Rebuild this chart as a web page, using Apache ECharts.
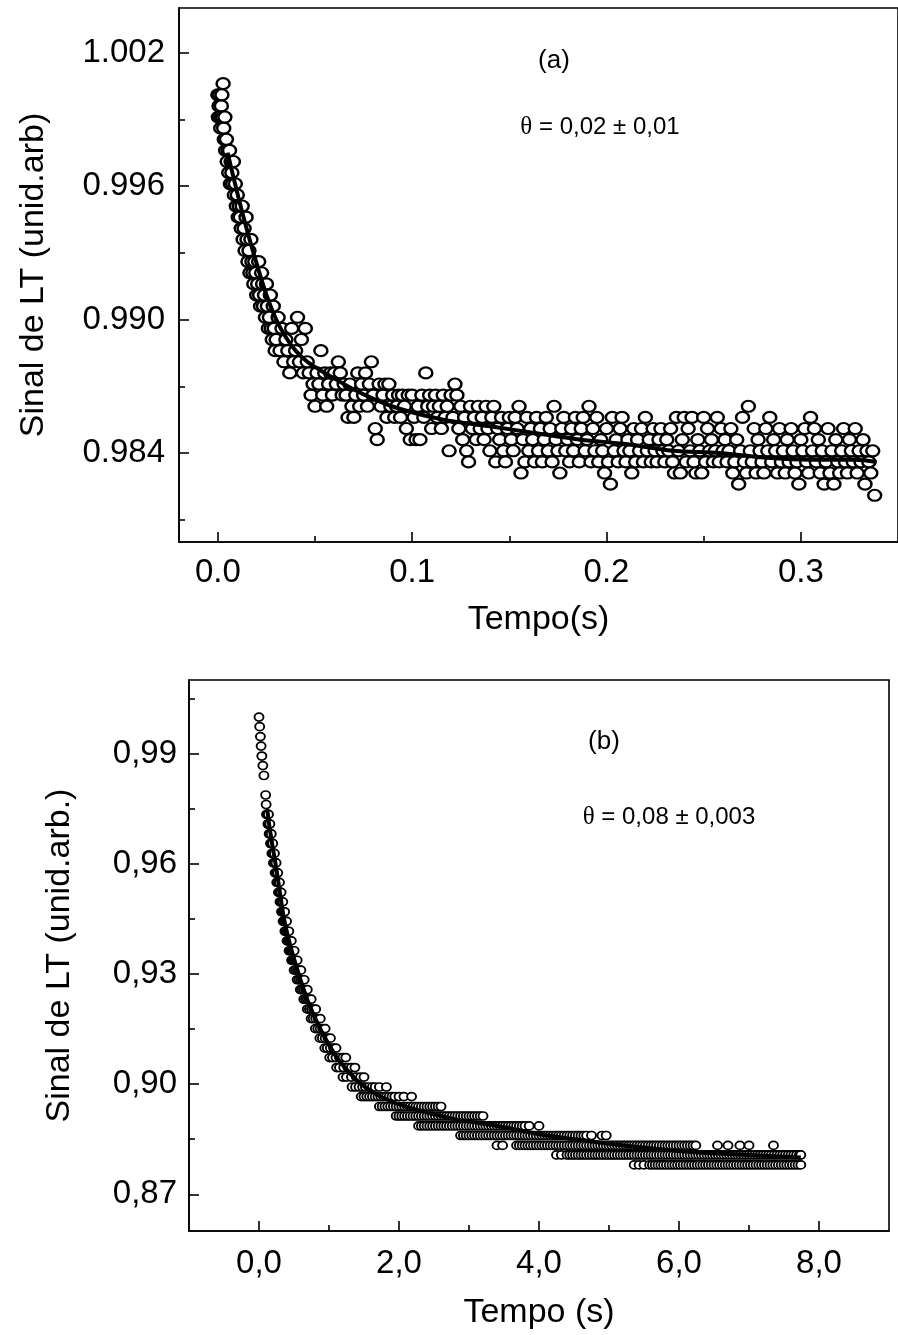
<!DOCTYPE html>
<html>
<head>
<meta charset="utf-8">
<title>Sinal de LT</title>
<script src="https://cdn.jsdelivr.net/npm/echarts@6/dist/echarts.min.js"></script>
<style>
  html, body { margin: 0; padding: 0; background: #fff; }
  #chart { width: 898px; height: 1335px; }
</style>
</head>
<body>
<div id="chart"></div>
<script>
// ---------- panel (a) ----------
// the signal is quantised: each level is listed with the times (ms) where a point sits on it
const levelsA = [1.0006, 1.0001, 0.9996, 0.9991, 0.9986, 0.9981, 0.9976, 0.9971, 0.9966, 0.9961,
  0.9956, 0.9951, 0.9946, 0.9941, 0.9936, 0.9931, 0.9926, 0.9921, 0.9916, 0.9911, 0.9906, 0.9901,
  0.9896, 0.9891, 0.9886, 0.9881, 0.9876, 0.9871, 0.9866, 0.9861, 0.9856, 0.9851, 0.9846, 0.9841,
  0.9836, 0.9831, 0.9826, 0.9821];
const msA = [
  [2.7],
  [0, 0.9, 2.1],
  [0.6, 1.8],
  [0.3, 1.2, 2.4, 3.6],
  [1.5, 3.0],
  [3.3, 4.4],
  [4.0, 5.2, 6.0],
  [4.8, 6.8, 8.0],
  [5.6, 7.2],
  [6.4, 7.6, 9.0],
  [8.5, 10.0],
  [9.5, 11.0, 12.5],
  [10.5, 11.5, 14.5],
  [12.0, 13.5],
  [13.0, 15.0, 17.0],
  [14.0, 16.0],
  [15.5, 17.5, 19.0, 21.0],
  [16.5, 18.0, 19.5, 22.5],
  [18.5, 20.5, 23.0, 25.0],
  [20.0, 21.5, 24.0, 27.0],
  [22.0, 23.5, 25.5, 28.5],
  [24.5, 26.5, 31, 41],
  [26.0, 27.5, 29.0, 33, 38, 45],
  [28.0, 30, 35, 43],
  [29.5, 32, 36, 40, 53],
  [34, 39, 42, 46, 62, 79],
  [37, 44, 47, 51, 55, 58, 60, 63, 72, 76, 107],
  [49, 52, 57, 61, 65, 68, 74, 78, 83, 86, 88, 122],
  [48, 54, 59, 64, 66, 71, 75, 80, 85, 90, 93, 95, 98, 100, 105, 109, 112, 116, 120, 123],
  [50, 56, 69, 73, 77, 84, 89, 92, 96, 103, 108, 111, 114, 118, 125, 130, 134, 138, 142, 155, 173, 191, 273],
  [67, 70, 87, 91, 94, 101, 106, 113, 117, 121, 127, 132, 136, 141, 146, 150, 153, 159, 164, 169, 178,
    184, 188, 195, 203, 208, 220, 236, 240, 244, 250, 257, 270, 284, 305],
  [81, 97, 110, 115, 124, 131, 135, 139, 144, 149, 154, 161, 166, 171, 177, 182, 187, 193, 200, 207, 214,
    218, 224, 228, 233, 242, 252, 259, 264, 276, 282, 289, 295, 302, 307, 314, 322, 328],
  [82, 99, 102, 104, 126, 133, 137, 145, 151, 157, 162, 168, 174, 180, 185, 190, 197, 205, 211, 216, 222,
    227, 231, 239, 247, 254, 261, 267, 278, 286, 293, 300, 309, 318, 325, 332],
  [119, 128, 140, 147, 152, 160, 165, 170, 175, 179, 183, 189, 194, 198, 204, 209, 212, 217, 221, 225, 229,
    232, 237, 243, 248, 253, 256, 260, 263, 269, 274, 279, 283, 287, 291, 296, 301, 306, 311, 316, 321, 326,
    330, 334, 337],
  [129, 143, 148, 158, 163, 167, 172, 181, 186, 192, 196, 201, 206, 210, 215, 219, 223, 226, 230, 234, 241,
    245, 251, 255, 258, 262, 266, 271, 275, 280, 285, 290, 294, 298, 303, 308, 313, 319, 323, 327, 331, 335],
  [156, 176, 199, 213, 235, 238, 246, 249, 265, 272, 277, 281, 288, 292, 297, 304, 310, 315, 320, 324, 329, 336],
  [202, 268, 299, 312, 317, 333],
  [338]
];
// fitted curve (s, signal)
const fitA = [[0.005, 0.9975], [0.008, 0.9964], [0.012, 0.9950], [0.016, 0.9937], [0.020, 0.9925],
  [0.025, 0.9911], [0.030, 0.9900], [0.035, 0.9892], [0.040, 0.9886], [0.046, 0.9881], [0.055, 0.9876],
  [0.069, 0.9869], [0.081, 0.9864], [0.093, 0.9860], [0.116, 0.9855], [0.140, 0.9852], [0.163, 0.9849],
  [0.187, 0.9846], [0.210, 0.9844], [0.234, 0.9841], [0.258, 0.9840], [0.281, 0.9838], [0.305, 0.9837],
  [0.328, 0.9837], [0.339, 0.9836]];
const xTicksA = [0, 0.1, 0.2, 0.3];
const xMinorA = [0.05, 0.15, 0.25];
const yTicksA = [0.984, 0.990, 0.996, 1.002];
const yMinorA = [0.981, 0.987, 0.993, 0.999];

// ---------- panel (b) ----------
// same idea: quantised levels and the times (s) where points sit on them
const levelsB = [0.9999, 0.9973, 0.9946, 0.9920, 0.9893, 0.9867, 0.9840, 0.9787, 0.9761, 0.9734,
  0.9708, 0.9681, 0.9655, 0.9628, 0.9602, 0.9575, 0.9549, 0.9522, 0.9496, 0.9469, 0.9443, 0.9416,
  0.9390, 0.9363, 0.9337, 0.9310, 0.9284, 0.9257, 0.9231, 0.9204, 0.9178, 0.9151, 0.9125, 0.9098,
  0.9072, 0.9045, 0.9019, 0.8992, 0.8966, 0.8939, 0.8913, 0.8886, 0.8860, 0.8833, 0.8807, 0.8780];
const secB = [
  [0.000], [0.010], [0.020], [0.030], [0.040], [0.055], [0.070], [0.095], [0.102],
  [0.108, 0.115, 0.120, 0.128, 0.135],
  [0.128, 0.133, 0.140, 0.147, 0.155],
  [0.145, 0.152, 0.160, 0.168, 0.175],
  [0.165, 0.172, 0.180, 0.188, 0.196],
  [0.184, 0.192, 0.202, 0.212, 0.220],
  [0.206, 0.214, 0.224, 0.234, 0.244],
  [0.230, 0.238, 0.248, 0.258, 0.268],
  [0.254, 0.262, 0.272, 0.282, 0.292],
  [0.278, 0.286, 0.296, 0.306, 0.316],
  [0.300, 0.310, 0.320, 0.330, 0.340],
  [0.322, 0.332, 0.342, 0.354, 0.366],
  [0.344, 0.356, 0.368, 0.380, 0.394],
  [0.370, 0.384, 0.398, 0.412, 0.426],
  [0.400, 0.414, 0.430, 0.446, 0.462],
  [0.430, 0.448, 0.466, 0.484, 0.502],
  [0.466, 0.486, 0.505, 0.524, 0.545],
  [0.502, 0.526, 0.550, 0.574, 0.598],
  [0.545, 0.570, 0.595, 0.620, 0.645],
  [0.590, 0.615, 0.640, 0.665, 0.690],
  [0.640, 0.665, 0.690, 0.715, 0.745],
  [0.690, 0.720, 0.750, 0.780, 0.810],
  [0.745, 0.775, 0.810, 0.845, 0.875],
  [0.805, 0.840, 0.875, 0.910, 0.945],
  [0.870, 0.905, 0.945, 0.985, 1.020],
  [0.940, 0.975, 1.020, 1.065, 1.100],
  [1.010, 1.050, 1.100, 1.150, 1.200, 1.240],
  [1.110, 1.150, 1.210, 1.270, 1.320, 1.370],
  [1.200, 1.250, 1.320, 1.390, 1.450, 1.500],
  [1.330, 1.380, 1.430, 1.480, 1.520, 1.570, 1.620, 1.660, 1.720, 1.820],
  [1.460, 1.500, 1.540, 1.580, 1.620, 1.660, 1.700, 1.740, 1.780, 1.820, 1.860, 1.900, 1.940, 2.000,
    2.070, 2.180],
  [1.72, 1.76, 1.80, 1.84, 1.88, 1.92, 1.96, 2.00, 2.04, 2.08, 2.12, 2.16, 2.20, 2.24, 2.28, 2.32, 2.36,
    2.40, 2.44, 2.48, 2.52, 2.56, 2.60],
  [1.96, 2.00, 2.04, 2.08, 2.12, 2.16, 2.20, 2.24, 2.28, 2.32, 2.36, 2.40, 2.44, 2.48, 2.52, 2.56, 2.60,
    2.64, 2.68, 2.72, 2.76, 2.80, 2.84, 2.88, 2.92, 2.96, 3.00, 3.04, 3.08, 3.12, 3.16, 3.20],
  [2.28, 2.32, 2.36, 2.40, 2.44, 2.48, 2.52, 2.56, 2.60, 2.64, 2.68, 2.72, 2.76, 2.80, 2.84, 2.88, 2.92,
    2.96, 3.00, 3.04, 3.08, 3.12, 3.16, 3.20, 3.24, 3.28, 3.32, 3.36, 3.40, 3.44, 3.48, 3.52, 3.56, 3.60,
    3.64, 3.68, 3.72, 3.76, 3.80, 3.86, 4.00],
  [2.88, 2.92, 2.96, 3.00, 3.04, 3.08, 3.12, 3.16, 3.20, 3.24, 3.28, 3.32, 3.36, 3.40, 3.44, 3.48, 3.52,
    3.56, 3.60, 3.64, 3.68, 3.72, 3.76, 3.80, 3.84, 3.88, 3.92, 3.96, 4.00, 4.04, 4.08, 4.12, 4.16, 4.20,
    4.24, 4.28, 4.32, 4.36, 4.40, 4.44, 4.48, 4.52, 4.56, 4.60, 4.64, 4.68, 4.75, 4.90, 4.96],
  [3.40, 3.48, 3.68, 3.72, 3.76, 3.80, 3.84, 3.88, 3.92, 3.96, 4.00, 4.04, 4.08, 4.12, 4.16, 4.20, 4.24,
    4.28, 4.32, 4.36, 4.40, 4.44, 4.48, 4.52, 4.56, 4.60, 4.64, 4.68, 4.72, 4.76, 4.80, 4.84, 4.88, 4.92,
    4.96, 5.00, 5.04, 5.08, 5.12, 5.16, 5.20, 5.24, 5.28, 5.32, 5.36, 5.40, 5.44, 5.48, 5.52, 5.56, 5.60,
    5.64, 5.68, 5.72, 5.76, 5.80, 5.84, 5.88, 5.92, 5.96, 6.00, 6.04, 6.08, 6.12, 6.16, 6.20, 6.24, 6.55,
    6.70, 6.87, 7.00, 7.35],
  [4.25, 4.32, 4.40, 4.44, 4.48, 4.52, 4.56, 4.60, 4.64, 4.68, 4.72, 4.76, 4.80, 4.84, 4.88, 4.92, 4.96,
    5.00, 5.04, 5.08, 5.12, 5.16, 5.20, 5.24, 5.28, 5.32, 5.36, 5.40, 5.44, 5.48, 5.52, 5.56, 5.60, 5.64,
    5.68, 5.72, 5.76, 5.80, 5.84, 5.88, 5.92, 5.96, 6.00, 6.04, 6.08, 6.12, 6.16, 6.20, 6.24, 6.28, 6.32,
    6.36, 6.40, 6.44, 6.48, 6.52, 6.56, 6.60, 6.64, 6.68, 6.72, 6.76, 6.80, 6.84, 6.88, 6.92, 6.96, 7.00,
    7.04, 7.08, 7.12, 7.16, 7.20, 7.24, 7.28, 7.32, 7.36, 7.40, 7.44, 7.48, 7.52, 7.56, 7.60, 7.64, 7.68,
    7.72, 7.74],
  [5.36, 5.43, 5.50, 5.58, 5.62, 5.66, 5.70, 5.74, 5.78, 5.82, 5.86, 5.90, 5.94, 5.98, 6.02, 6.06, 6.10,
    6.14, 6.18, 6.22, 6.26, 6.30, 6.34, 6.38, 6.42, 6.46, 6.50, 6.54, 6.58, 6.62, 6.66, 6.70, 6.74, 6.78,
    6.82, 6.86, 6.90, 6.94, 6.98, 7.02, 7.06, 7.10, 7.14, 7.18, 7.22, 7.26, 7.30, 7.34, 7.38, 7.42, 7.46,
    7.50, 7.54, 7.58, 7.62, 7.66, 7.70, 7.74]
];
const fitB = [[0.12, 0.9745], [0.15, 0.9700], [0.20, 0.9640], [0.236, 0.9600], [0.30, 0.9520],
  [0.357, 0.9450], [0.45, 0.9375], [0.566, 0.9300], [0.70, 0.9225], [0.876, 0.9150], [1.10, 0.9075],
  [1.25, 0.9040], [1.457, 0.9000], [1.75, 0.8965], [2.11, 0.8938], [2.76, 0.8906], [3.41, 0.8886],
  [4.05, 0.8862], [4.70, 0.8845], [5.35, 0.8830], [6.00, 0.8818], [6.64, 0.8810], [7.20, 0.8805],
  [7.74, 0.8800]];
const xTicksB = [0, 2, 4, 6, 8];
const xMinorB = [1, 3, 5, 7];
const yTicksB = [0.87, 0.90, 0.93, 0.96, 0.99];
const yMinorB = [0.885, 0.915, 0.945, 0.975, 1.005];

const FONT = '"Liberation Sans", Arial, sans-serif';

function toPoints(levels, times, unit) {
  const pts = [];
  levels.forEach((v, i) => times[i].forEach(t => pts.push([t * unit, v])));
  return pts.sort((p, q) => p[0] - q[0]);
}

// one value axis; minor-tick axes reuse this with no line and no labels
function axis(o) {
  return {
    type: 'value',
    gridIndex: o.grid,
    position: o.pos,
    min: o.min,
    max: o.max,
    axisLine: { show: !!o.line, onZero: false, lineStyle: { color: '#000', width: 1.6 } },
    axisTick: {
      show: true, inside: true, length: o.tickLen, customValues: o.ticks,
      lineStyle: { color: '#000', width: 1.6 }
    },
    axisLabel: o.labels ? {
      show: true, customValues: o.labels, formatter: o.fmt, margin: o.margin,
      color: '#000', fontSize: 33, fontFamily: FONT
    } : { show: false },
    splitLine: { show: false },
    name: o.name || '',
    nameLocation: 'middle',
    nameGap: o.nameGap || 0,
    nameTextStyle: { color: '#000', fontSize: 34, fontFamily: FONT }
  };
}

const dot = v => v.toFixed(1);
const dot3 = v => v.toFixed(3);
const comma1 = v => v.toFixed(1).replace('.', ',');
const comma2 = v => v.toFixed(2).replace('.', ',');

const chart = echarts.init(document.getElementById('chart'));

const option = {
  animation: false,
  backgroundColor: '#fff',
  grid: [
    { left: 179, top: 8, width: 728, height: 534, show: true, borderColor: '#000', borderWidth: 1.6 },
    { left: 189, top: 680, width: 700, height: 551, show: true, borderColor: '#000', borderWidth: 1.6 }
  ],
  xAxis: [
    axis({ grid: 0, pos: 'bottom', min: -0.02, max: 0.35, line: true, tickLen: 10, ticks: xTicksA,
      labels: xTicksA, fmt: dot, margin: 14, name: 'Tempo(s)', nameGap: 61 }),
    axis({ grid: 0, pos: 'bottom', min: -0.02, max: 0.35, tickLen: 6, ticks: xMinorA }),
    axis({ grid: 1, pos: 'bottom', min: -1, max: 9, line: true, tickLen: 10, ticks: xTicksB,
      labels: xTicksB, fmt: comma1, margin: 16, name: 'Tempo (s)', nameGap: 65 }),
    axis({ grid: 1, pos: 'bottom', min: -1, max: 9, tickLen: 6, ticks: xMinorB })
  ],
  yAxis: [
    axis({ grid: 0, pos: 'left', min: 0.980, max: 1.004, line: true, tickLen: 10, ticks: yTicksA,
      labels: yTicksA, fmt: dot3, margin: 14, name: 'Sinal de LT (unid.arb)', nameGap: 128 }),
    axis({ grid: 0, pos: 'left', min: 0.980, max: 1.004, tickLen: 6, ticks: yMinorA }),
    axis({ grid: 1, pos: 'left', min: 0.86, max: 1.01, line: true, tickLen: 10, ticks: yTicksB,
      labels: yTicksB, fmt: comma2, margin: 12, name: 'Sinal de LT (unid.arb.)', nameGap: 112 }),
    axis({ grid: 1, pos: 'left', min: 0.86, max: 1.01, tickLen: 6, ticks: yMinorB })
  ],
  graphic: [
    { type: 'text', x: 554, y: 61, style: { text: '(a)', fontSize: 26, fontFamily: FONT, fill: '#000',
      align: 'center', verticalAlign: 'middle' } },
    { type: 'text', x: 600, y: 127, style: { text: '{s|θ} = 0,02 ± 0,01', fontSize: 24, fontFamily: FONT,
      fill: '#000', align: 'center', verticalAlign: 'middle',
      rich: { s: { fontFamily: '"Liberation Serif", serif', fontSize: 25 } } } },
    { type: 'text', x: 604, y: 742, style: { text: '(b)', fontSize: 26, fontFamily: FONT, fill: '#000',
      align: 'center', verticalAlign: 'middle' } },
    { type: 'text', x: 669, y: 817, style: { text: '{s|θ} = 0,08 ± 0,003', fontSize: 24, fontFamily: FONT,
      fill: '#000', align: 'center', verticalAlign: 'middle',
      rich: { s: { fontFamily: '"Liberation Serif", serif', fontSize: 25 } } } }
  ],
  series: [
    {
      type: 'scatter', xAxisIndex: 0, yAxisIndex: 0, silent: true, z: 2,
      data: toPoints(levelsA, msA, 0.001),
      symbol: 'circle', symbolSize: [13, 11],
      itemStyle: { color: '#fff', borderColor: '#000', borderWidth: 2.3, opacity: 1 }
    },
    {
      type: 'line', xAxisIndex: 0, yAxisIndex: 0, silent: true, z: 3,
      data: fitA, showSymbol: false, smooth: 0.3,
      lineStyle: { color: '#000', width: 4 }
    },
    {
      type: 'scatter', xAxisIndex: 2, yAxisIndex: 2, silent: true, z: 2,
      data: toPoints(levelsB, secB, 1),
      symbol: 'circle', symbolSize: [9, 8],
      itemStyle: { color: '#fff', borderColor: '#000', borderWidth: 1.8, opacity: 1 }
    },
    {
      type: 'line', xAxisIndex: 2, yAxisIndex: 2, silent: true, z: 3,
      data: fitB, showSymbol: false, smooth: 0.3,
      lineStyle: { color: '#000', width: 4 }
    }
  ]
};

chart.setOption(option);
</script>
</body>
</html>
